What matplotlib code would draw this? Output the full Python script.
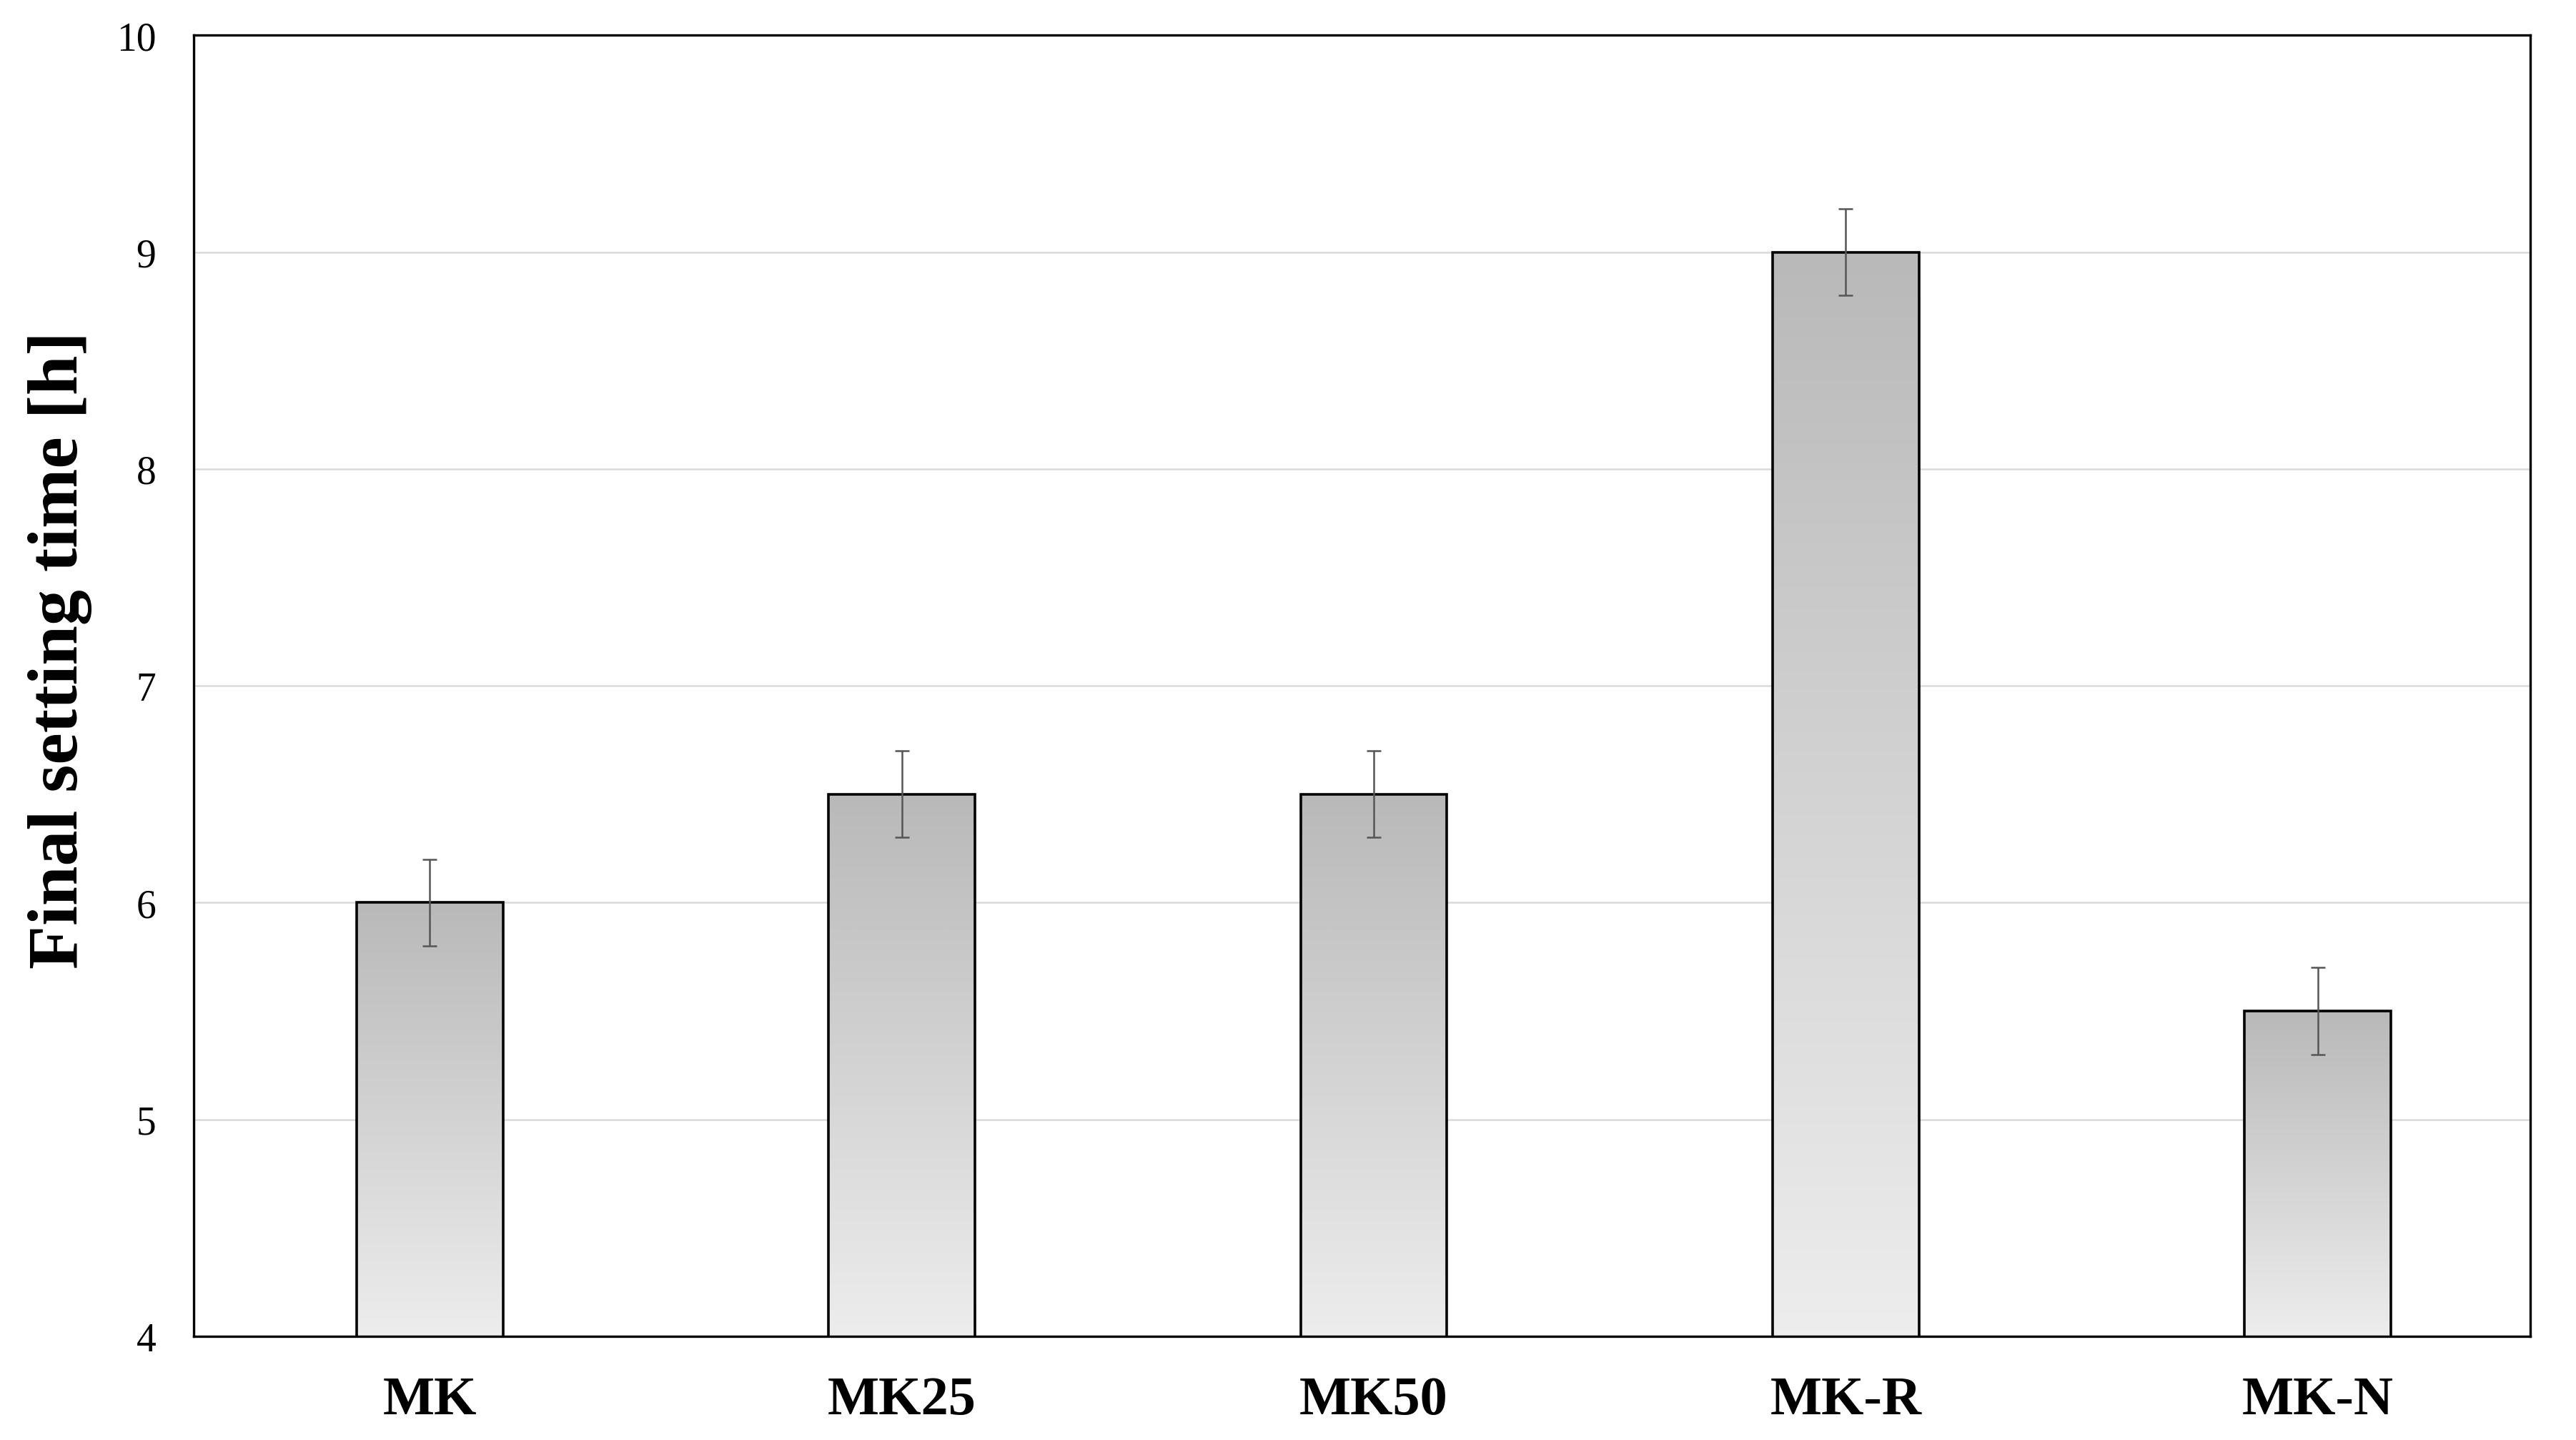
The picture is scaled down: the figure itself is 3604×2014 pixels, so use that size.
#!/usr/bin/env python3
"""
Final setting time bar chart with gradient-filled bars.
"""

import numpy as np
import matplotlib

matplotlib.use("Agg")
import matplotlib.pyplot as plt
from matplotlib.colors import LinearSegmentedColormap


mixes = ["MK", "MK25", "MK50", "MK-R", "MK-N"]
setting_time = [6.0, 6.5, 6.5, 9.0, 5.5]
setting_err = [0.2, 0.2, 0.2, 0.2, 0.2]
y_ticks = [4, 5, 6, 7, 8, 9, 10]


def main() -> None:
    plt.rcParams["font.family"] = ["Liberation Serif", "DejaVu Serif"]

    fig = plt.figure(figsize=(18.02, 10.075), dpi=200)
    ax = fig.add_axes([0.0752, 0.072, 0.9070, 0.903])

    x = np.arange(len(mixes))
    bars = ax.bar(x, setting_time, width=0.31, bottom=0, facecolor="none",
                  edgecolor="black", linewidth=1.3, zorder=3)

    # vertical grey gradient inside each bar (dark at top, light at bottom)
    cmap = LinearSegmentedColormap.from_list("bargrad", ["#ededed", "#b9b9b9"])
    grad = np.linspace(0, 1, 256).reshape(-1, 1)
    for bar in bars:
        x0 = bar.get_x()
        w = bar.get_width()
        h = bar.get_height()
        im = ax.imshow(grad, cmap=cmap, aspect="auto", origin="lower",
                       extent=(x0, x0 + w, 4, h), zorder=2, interpolation="bilinear")
        im.set_clip_path(bar)

    ax.errorbar(x, setting_time, yerr=setting_err, fmt="none", ecolor="#555555",
                elinewidth=0.9, capsize=3.6, capthick=0.9, zorder=4)

    ax.set_xlim(-0.5, 4.45)
    ax.set_ylim(4, 10)
    ax.set_yticks(y_ticks)
    ax.set_xticks(x)
    ax.set_xticklabels(mixes, fontsize=27.5, fontweight="bold")
    ax.tick_params(axis="y", labelsize=20, length=0, pad=19)
    ax.tick_params(axis="x", length=0, pad=20)
    ax.yaxis.grid(True, color="#d9d9d9", linewidth=0.9, zorder=0)
    ax.set_axisbelow(True)
    for spine in ax.spines.values():
        spine.set_linewidth(1.2)
        spine.set_color("black")

    ax.set_ylabel("Final setting time [h]", fontsize=36, fontweight="bold", labelpad=12)
    ax.yaxis.label.set_y(0.528)

    fig.savefig("out.png", dpi=200)
    plt.close(fig)


if __name__ == "__main__":
    main()
